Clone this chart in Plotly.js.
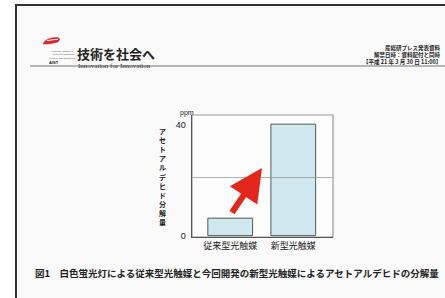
<!DOCTYPE html>
<html>
<head>
<meta charset="utf-8">
<script src="https://cdn.plot.ly/plotly-3.0.1.min.js"></script>
<style>
html,body{margin:0;padding:0;background:#fff;}
#chart{width:445px;height:298px;}
</style>
</head>
<body>
<div id="chart"></div>
<script>
// ---- data ----
var categories = ['従来型光触媒', '新型光触媒'];
var decomposition = [6.3, 40.3];
var yTickVals = [0, 40];
var yTickText = ['0', '40'];
var gridValue = 21;
var yUnit = 'ppm';
var yTitle = 'アセトアルデヒド分解量';
var caption = '図1　白色蛍光灯による従来型光触媒と今回開発の新型光触媒によるアセトアルデヒドの分解量';
var headTitle = '技術を社会へ';
var headSub = 'Innovation for Innovation';
var headRight = ['産総研プレス発表資料', '解禁日時：資料配付と同時', '【平成 21 年 3 月 30 日 11:00】'];
var logoLines = ['National Institute of', 'Advanced Industrial', 'Science and Technology'];

// ---- layout helpers (pixel -> paper) ----
var W = 445, H = 298, ML = 192, MR = 112, MT = 115, MB = 61;
var PW = W - ML - MR, PH = H - MT - MB;
function px(x){ return (x - ML) / PW; }
function py(y){ return (H - MB - y) / PH; }
function P(x, y){ return px(x) + ',' + py(y); }

var jp = '"Noto Sans CJK JP", "Noto Sans", sans-serif';

var trace = {
  type: 'bar',
  x: categories,
  y: decomposition,
  width: 0.71,
  marker: {color: '#cfe8f0', line: {color: '#555', width: 1}},
  hoverinfo: 'skip'
};

var annotations = [
  {xref:'paper', yref:'paper', x:px(178), y:py(107), text:yUnit, showarrow:false,
   font:{family:'Liberation Sans, sans-serif', size:7, color:'#222'}},
  {xref:'paper', yref:'paper', x:px(157), y:py(176), text:yTitle.split('').join('<br>'), showarrow:false,
   font:{family:jp, size:7, color:'#222', weight:'bold'}},
  {xref:'paper', yref:'paper', x:px(262), y:py(168), ax:-31, ay:46, text:'', showarrow:true,
   arrowhead:2, arrowsize:1.1, arrowwidth:6, arrowcolor:'#e3261b'},
  {xref:'paper', yref:'paper', x:px(33), y:py(282), xanchor:'left', text:caption, showarrow:false,
   font:{family:jp, size:9.5, color:'#222', weight:'bold'}},
  {xref:'paper', yref:'paper', x:px(75), y:py(42), xanchor:'left', text:headTitle, showarrow:false,
   font:{family:jp, size:13, color:'#222', weight:'bold'}},
  {xref:'paper', yref:'paper', x:px(76), y:py(59.5), xanchor:'left', text:headSub, showarrow:false,
   font:{family:'Liberation Serif, serif', size:7, color:'#333'}},
  {xref:'paper', yref:'paper', x:px(47), y:py(57.5), text:'AIST', showarrow:false,
   font:{family:'Liberation Sans, sans-serif', size:4, color:'#222', weight:'bold'}},
  {xref:'paper', yref:'paper', x:px(47), y:py(48), text:logoLines.join('<br>'), showarrow:false,
   font:{family:'Liberation Sans, sans-serif', size:2.5, color:'#555'}}
];
headRight.forEach(function(t, i){
  annotations.push({xref:'paper', yref:'paper', x:px(443), y:py(42 + i*7), xanchor:'right', text:t, showarrow:false,
    font:{family:jp, size:5.5, color:'#222', weight:'bold'}});
});

var shapes = [
  // document page
  {type:'rect', xref:'paper', yref:'paper', x0:px(16), x1:px(460), y0:py(310), y1:py(5),
   line:{color:'#333', width:2}, fillcolor:'#f9f9f9', layer:'below'},
  // plot background
  {type:'rect', xref:'paper', yref:'paper', x0:0, x1:1, y0:0, y1:1,
   line:{color:'#999', width:1.2}, fillcolor:'#fdfdfd', layer:'below'},
  // header rule
  {type:'line', xref:'paper', yref:'paper', x0:px(30), x1:px(445), y0:py(66), y1:py(66),
   line:{color:'#777', width:1.2}},
  // logo swoosh
  {type:'path', xref:'paper', yref:'paper',
   path:'M '+P(43,44)+' Q '+P(46,37)+' '+P(58,37.5)+' Q '+P(61,39)+' '+P(58,42)+' Q '+P(50,44.5)+' '+P(43,44)+' Z',
   fillcolor:'#d8262e', line:{color:'#b01c22', width:0.5}},
  {type:'line', xref:'paper', yref:'paper', x0:px(47), x1:px(58), y0:py(40.5), y1:py(39.2),
   line:{color:'#ffffff', width:1}},
  // grid line
  {type:'line', xref:'paper', yref:'y', x0:0, x1:1, y0:gridValue, y1:gridValue,
   line:{color:'#999', width:0.8}, layer:'above'}
];

var layout = {
  width: W, height: H,
  margin: {l:ML, r:MR, t:MT, b:MB, pad:0},
  paper_bgcolor: '#ffffff',
  plot_bgcolor: 'rgba(0,0,0,0)',
  showlegend: false,
  xaxis: {
    range: [-0.606, 1.63], fixedrange: true,
    showline: true, linecolor: '#555', linewidth: 1.2,
    showgrid: false, zeroline: false, ticks: '',
    tickfont: {family: jp, size: 9, color: '#222'}
  },
  yaxis: {
    range: [-0.5, 43.6], fixedrange: true,
    showline: true, linecolor: '#555', linewidth: 1.5,
    showgrid: false, zeroline: false,
    tickvals: yTickVals, ticktext: yTickText,
    ticks: 'outside', ticklen: 3, tickcolor: 'rgba(0,0,0,0)',
    tickfont: {family: 'Liberation Sans, sans-serif', size: 9, color: '#222'}
  },
  annotations: annotations,
  shapes: shapes
};

Plotly.newPlot('chart', [trace], layout, {displayModeBar: false, staticPlot: true});
</script>
</body>
</html>
